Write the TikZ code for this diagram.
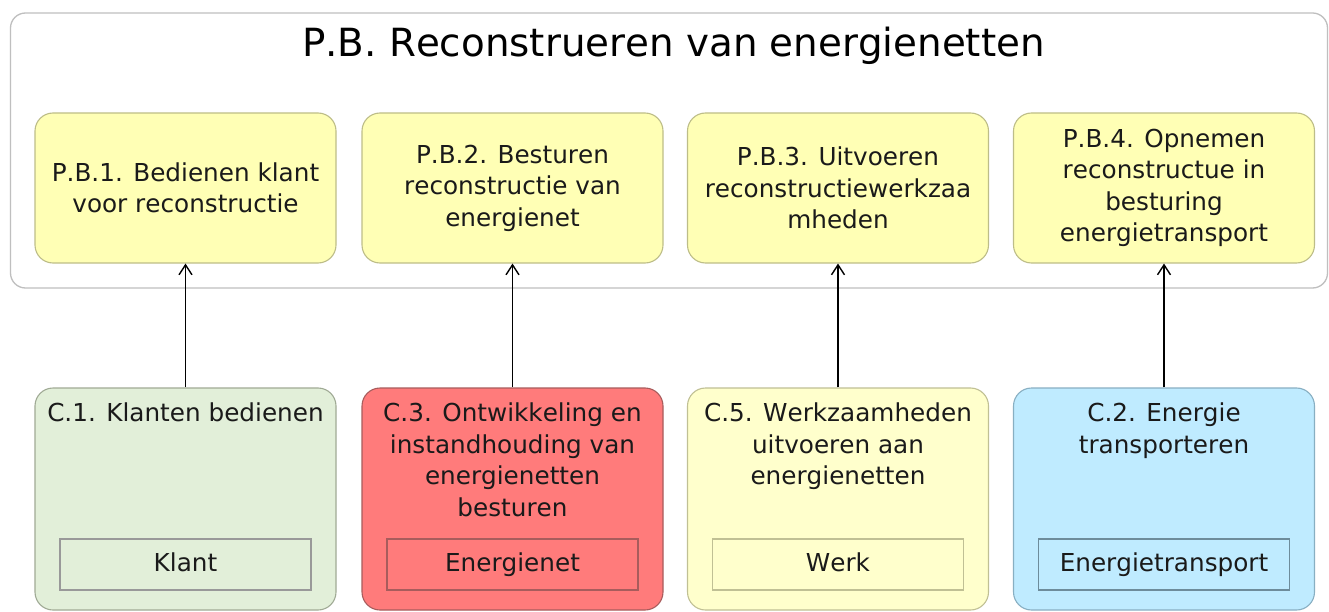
\documentclass[tikz,border=0pt]{standalone}
\usepackage{fontspec}
\setmainfont{DejaVu Sans}[Kerning=Off]
\usetikzlibrary{arrows.meta}
\definecolor{pbfill}{HTML}{FFFFB5}
\definecolor{pbdraw}{HTML}{BDBD88}
\definecolor{cgfill}{HTML}{E2EFD9}
\definecolor{cgdraw}{HTML}{A0AA95}
\definecolor{crfill}{HTML}{FF7B7B}
\definecolor{crdraw}{HTML}{A85C5C}
\definecolor{cyfill}{HTML}{FFFFCC}
\definecolor{cydraw}{HTML}{C0C094}
\definecolor{cbfill}{HTML}{BFEBFF}
\definecolor{cbdraw}{HTML}{88AFC2}
\definecolor{txt}{HTML}{1A1A1A}
\tikzset{
  container/.style={draw=black!25, line width=1.3pt, rounded corners=15pt},
  pbbox/.style={draw=pbdraw, fill=pbfill, line width=1.1pt, rounded corners=18pt,
    minimum width=301pt, minimum height=150pt, inner sep=0pt, align=center,
    text=txt, font=\fontsize{24.7}{31.5}\selectfont},
  cbox/.style={line width=1.1pt, rounded corners=18pt,
    minimum width=301pt, minimum height=222pt, inner sep=0pt},
  ctext/.style={anchor=north, inner sep=0pt, align=center, text=txt,
    font=\fontsize{24.7}{31.5}\selectfont},
  inbox/.style={line width=1.1pt, minimum width=251pt, minimum height=51pt,
    inner sep=0pt, text height=18.5pt, text depth=5.5pt, text=txt,
    font=\fontsize{24.7}{31.5}\selectfont},
  flow/.style={draw=black, line width=1.7pt, -{Straight Barb[length=10pt,width=13pt,line width=1.4pt]}}
}
\begin{document}
\begin{tikzpicture}[x=1pt,y=-1pt]
\useasboundingbox (0,0) rectangle (1329,612);
\fill[white] (0,0) rectangle (1329,612);
% container
\draw[container] (10.5,13) rectangle (1327.5,288);
\node[anchor=base, inner sep=0pt, font=\fontsize{38.8}{46}\selectfont] (title) at (673.5,57) {P.B. Reconstrueren van energienetten};
% top boxes
\node[pbbox] (pb1) at (185.5,188) {P.B.1. Bedienen klant\\voor reconstructie};
\node[pbbox] (pb2) at (512.5,188) {P.B.2. Besturen\\reconstructie van\\energienet};
\node[pbbox] (pb3) at (838,188) {P.B.3. Uitvoeren\\reconstructiewerkzaa\\mheden};
\node[pbbox] (pb4) at (1164,188) {P.B.4. Opnemen\\reconstructue in\\besturing\\energietransport};
% bottom boxes
\node[cbox, draw=cgdraw, fill=cgfill] (c1) at (185.5,499) {};
\node[cbox, draw=crdraw, fill=crfill] (c3) at (512.5,499) {};
\node[cbox, draw=cydraw, fill=cyfill] (c5) at (838,499) {};
\node[cbox, draw=cbdraw, fill=cbfill] (c2) at (1164,499) {};
\node[ctext] (t1) at (185.5,403) {C.1. Klanten bedienen};
\node[ctext] (t3) at (512.5,403) {C.3. Ontwikkeling en\\instandhouding van\\energienetten\\besturen};
\node[ctext] (t5) at (838,403) {C.5. Werkzaamheden\\uitvoeren aan\\energienetten};
\node[ctext] (t2) at (1164,403) {C.2. Energie\\transporteren};
\node[inbox, draw=black!40, fill=cgfill] (i1) at (185.5,564.5) {Klant};
\node[inbox, draw=crdraw, fill=crfill] (i3) at (512.5,564.5) {Energienet};
\node[inbox, draw=cydraw, fill=cyfill] (i5) at (838,564.5) {Werk};
\node[inbox, draw=cbdraw!80!black, fill=cbfill] (i2) at (1164,564.5) {Energietransport};
% connectors
\draw[flow] (c1.north) -- (pb1.south);
\draw[flow] (c3.north) -- (pb2.south);
\draw[flow] (c5.north) -- (pb3.south);
\draw[flow] (c2.north) -- (pb4.south);
\end{tikzpicture}
\end{document}
